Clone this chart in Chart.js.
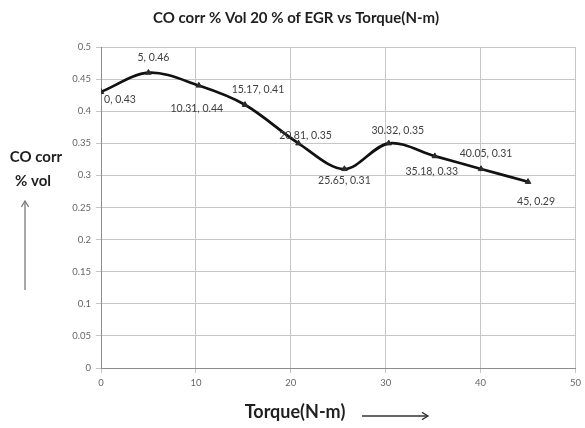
<!DOCTYPE html>
<html>
<head>
<meta charset="utf-8">
<script src="https://cdn.jsdelivr.net/npm/chart.js@4.4.0/dist/chart.umd.min.js"></script>
<style>
  html, body { margin: 0; padding: 0; background: #ffffff; }
  #wrap { width: 585px; height: 428px; }
</style>
</head>
<body>
<div id="wrap"><canvas id="chart" width="585" height="428"></canvas></div>
<script>
// Torque (N-m) against corrected CO (% vol) at 20 % EGR
const torque = [0, 5, 10.31, 15.17, 20.81, 25.65, 30.32, 35.18, 40.05, 45];
const coCorr = [0.43, 0.46, 0.44, 0.41, 0.35, 0.31, 0.35, 0.33, 0.31, 0.29];

// Axis ranges and steps
const xMin = 0, xMax = 50, xStep = 10;
const yMin = 0, yMax = 0.5, yStep = 0.05;

const chartTitle = 'CO corr % Vol 20 % of EGR vs Torque(N-m)';
const yTitleLines = ['CO corr', '% vol'];
const xTitle = 'Torque(N-m)';

// Where each point label sits relative to its marker (px)
const labelOffsets = [
  [19, 8], [5, -15], [-2, 23], [13, -15], [7, -8],
  [0, 12], [9, -13], [-3, 15], [5, -15], [8, 20]
];

const FONT = 'Lato, "Open Sans", "Liberation Sans", sans-serif';

const points = torque.map((t, i) => ({ x: t, y: coCorr[i] }));

function fmt(v) {
  return String(parseFloat(Number(v).toFixed(2)));
}

function arrowHead(ctx, x, y, dir, size) {
  ctx.beginPath();
  if (dir === 'up') {
    ctx.moveTo(x - size * 0.6, y + size);
    ctx.lineTo(x, y);
    ctx.lineTo(x + size * 0.6, y + size);
  } else {
    ctx.moveTo(x - size, y - size * 0.6);
    ctx.lineTo(x, y);
    ctx.lineTo(x - size, y + size * 0.6);
  }
  ctx.stroke();
}

// Title, point labels, axis titles and the direction arrows
const annotations = {
  id: 'annotations',
  afterDatasetsDraw(chart) {
    const ctx = chart.ctx;
    const meta = chart.getDatasetMeta(0);
    ctx.save();
    ctx.font = '10.5px ' + FONT;
    ctx.fillStyle = '#404040';
    ctx.textAlign = 'center';
    ctx.textBaseline = 'middle';
    meta.data.forEach((pt, i) => {
      const [dx, dy] = labelOffsets[i];
      ctx.fillText(fmt(torque[i]) + ', ' + fmt(coCorr[i]), pt.x + dx, pt.y + dy);
    });
    ctx.restore();
  },
  afterDraw(chart) {
    const ctx = chart.ctx;
    ctx.save();
    ctx.fillStyle = '#1f1f1f';
    ctx.textAlign = 'center';
    ctx.textBaseline = 'middle';
    ctx.font = 'bold 15px ' + FONT;
    ctx.fillText(chartTitle, 296, 18);
    ctx.fillText(yTitleLines[0], 36, 157);
    ctx.fillText(yTitleLines[1], 33, 181);
    ctx.font = 'bold 18px ' + FONT;
    ctx.fillText(xTitle, 295, 412);

    ctx.strokeStyle = '#7a7a7a';
    ctx.lineWidth = 1.3;
    ctx.beginPath();
    ctx.moveTo(25, 290);
    ctx.lineTo(25, 201);
    ctx.stroke();
    arrowHead(ctx, 25, 201, 'up', 6);

    ctx.strokeStyle = '#333333';
    ctx.beginPath();
    ctx.moveTo(362, 416);
    ctx.lineTo(428, 416);
    ctx.stroke();
    arrowHead(ctx, 428, 416, 'right', 6);
    ctx.restore();
  }
};

new Chart(document.getElementById('chart'), {
  type: 'line',
  data: {
    datasets: [{
      data: points,
      borderColor: '#111111',
      borderWidth: 2.7,
      tension: 0.33,
      pointStyle: 'triangle',
      pointRadius: 3.2,
      pointBackgroundColor: '#2a2a2a',
      pointBorderColor: '#2a2a2a',
      pointBorderWidth: 1,
      fill: false
    }]
  },
  options: {
    responsive: false,
    animation: false,
    devicePixelRatio: 1,
    layout: { padding: { left: 0, right: 9, top: 47, bottom: 0 } },
    plugins: {
      legend: { display: false },
      tooltip: { enabled: false },
      title: { display: false }
    },
    scales: {
      x: {
        type: 'linear',
        min: xMin,
        max: xMax,
        afterFit(s) { s.height = 60; },
        ticks: {
          stepSize: xStep,
          color: '#666666',
          font: { family: FONT, size: 9.5 },
          padding: 4,
          maxRotation: 0,
          callback: v => fmt(v)
        },
        grid: { color: '#c6c6c6', lineWidth: 1, tickLength: 5 },
        border: { color: '#8c8c8c', width: 1 }
      },
      y: {
        type: 'linear',
        min: yMin,
        max: yMax,
        afterFit(s) { s.width = 101; },
        ticks: {
          stepSize: yStep,
          color: '#666666',
          font: { family: FONT, size: 9.5 },
          padding: 5,
          callback: v => fmt(v)
        },
        grid: { color: '#c6c6c6', lineWidth: 1, tickLength: 5 },
        border: { color: '#8c8c8c', width: 1 }
      }
    }
  },
  plugins: [annotations]
});
</script>
</body>
</html>
